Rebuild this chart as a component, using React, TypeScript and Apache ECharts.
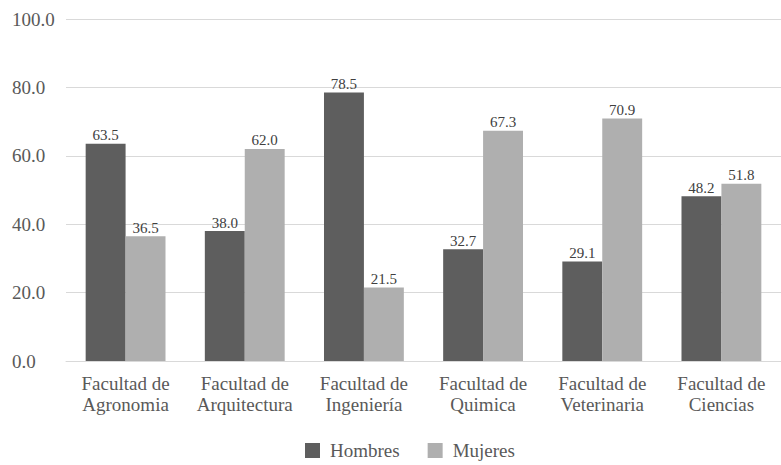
import React, { useEffect, useRef } from "react";
import * as echarts from "echarts";

const categories = [
  "Facultad de\nAgronomia",
  "Facultad de\nArquitectura",
  "Facultad de\nIngeniería",
  "Facultad de\nQuimica",
  "Facultad de\nVeterinaria",
  "Facultad de\nCiencias",
];
const hombres = [63.5, 38.0, 78.5, 32.7, 29.1, 48.2];
const mujeres = [36.5, 62.0, 21.5, 67.3, 70.9, 51.8];

const font = "Liberation Serif";

export default function App() {
  const ref = useRef<HTMLDivElement>(null);
  useEffect(() => {
    document.body.style.margin = "0";
    const chart = echarts.init(ref.current!, null, { renderer: "svg" });
    chart.setOption({
      animation: false,
      textStyle: { fontFamily: font },
      grid: { left: 66, right: -3, top: 19, bottom: 104 },
      legend: {
        bottom: 0,
        left: 300,
        itemWidth: 15,
        itemHeight: 15,
        itemGap: 28,
        icon: "rect",
        textStyle: {
          fontFamily: font,
          fontSize: 19,
          color: "#595959",
          padding: [0, 0, 0, 5],
        },
        data: ["Hombres", "Mujeres"],
      },
      xAxis: {
        type: "category",
        data: categories,
        axisLine: { lineStyle: { color: "#d9d9d9" } },
        axisTick: { show: false },
        axisLabel: {
          fontFamily: font,
          fontSize: 19,
          color: "#595959",
          lineHeight: 21,
          margin: 12,
          interval: 0,
        },
      },
      yAxis: {
        type: "value",
        min: 0,
        max: 100,
        interval: 20,
        axisLine: { show: false },
        axisTick: { show: false },
        splitLine: { lineStyle: { color: "#d9d9d9" } },
        axisLabel: {
          fontFamily: font,
          fontSize: 19,
          color: "#595959",
          margin: 54,
          align: "left",
          formatter: (v: number) => v.toFixed(1),
        },
      },
      series: [
        {
          name: "Hombres",
          type: "bar",
          data: hombres,
          barGap: "0%",
          barCategoryGap: "33%",
          itemStyle: { color: "#5e5e5e" },
          label: {
            show: true,
            position: "top",
            distance: 1,
            fontFamily: font,
            fontSize: 15,
            color: "#404040",
            formatter: (p: any) => p.value.toFixed(1),
          },
        },
        {
          name: "Mujeres",
          type: "bar",
          data: mujeres,
          itemStyle: { color: "#afafaf" },
          label: {
            show: true,
            position: "top",
            distance: 1,
            fontFamily: font,
            fontSize: 15,
            color: "#404040",
            formatter: (p: any) => p.value.toFixed(1),
          },
        },
      ],
    });
    return () => chart.dispose();
  }, []);
  return <div ref={ref} style={{ width: 781, height: 465 }} />;
}
